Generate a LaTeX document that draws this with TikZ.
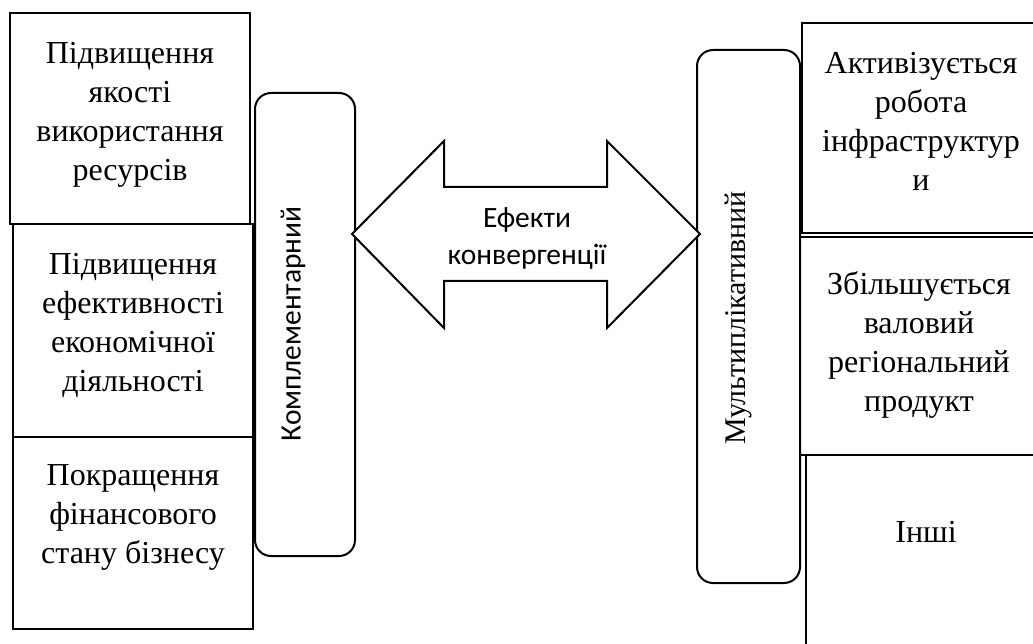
\documentclass[tikz,border=0pt]{standalone}
\usepackage{fontspec}
\setmainfont{Liberation Serif}
\newfontfamily\calib{Carlito}
\begin{document}
\begin{tikzpicture}[x=1pt,y=-1pt,
  box/.style={draw, line width=2pt, fill=white, inner sep=0pt},
  pill/.style={draw, line width=2pt, fill=white, rounded corners=16pt},
  sertxt/.style={align=center, inner sep=0pt, font=\fontsize{32}{39}\selectfont},
  santxt/.style={align=center, inner sep=0pt, font=\calib\fontsize{29.5}{37}\selectfont},
]
\useasboundingbox (0,0) rectangle (1033,644);
% left boxes
\draw[box] (10,13) rectangle (250,224);
\draw[box] (13,224) rectangle (253,437);
\draw[box] (13,437) rectangle (253,629);
\node[sertxt] (t1) at (130,115) {Підвищення\\якості\\використання\\ресурсів};
\node[sertxt] (t2) at (133,325) {Підвищення\\ефективності\\економічної\\діяльності};
\node[sertxt] (t3) at (133,517) {Покращення\\фінансового\\стану бізнесу};
% right boxes
\draw[box] (802,23) rectangle (1045,233);
\draw[box] (800,237) rectangle (1045,455);
\draw[box] (806,455) rectangle (1045,660);
\node[sertxt] (t4) at (921,121) {Активізується\\робота\\інфраструктур\\и};
\node[sertxt] (t5) at (919,345) {Збільшується\\валовий\\регіональний\\продукт};
\node[sertxt] (t6) at (926,532) {Інші};
% pills
\draw[pill] (255,93) rectangle (355,556);
\node[santxt, rotate=90] (k) at (293,324) {Комплементарний};
\draw[pill] (697,50) rectangle (800,583);
\node[sertxt, rotate=90, font=\fontsize{30}{36}\selectfont] (m) at (738,318) {Мультиплікативний};
% double arrow
\draw[line width=2pt, fill=white, line join=miter]
  (352,234) -- (444,141) -- (444,187) -- (607,187) -- (607,141) -- (700,234)
  -- (607,328) -- (607,281) -- (444,281) -- (444,328) -- cycle;
\node[santxt] (e) at (527,238) {Ефекти\\конвергенції};
\end{tikzpicture}
\end{document}
